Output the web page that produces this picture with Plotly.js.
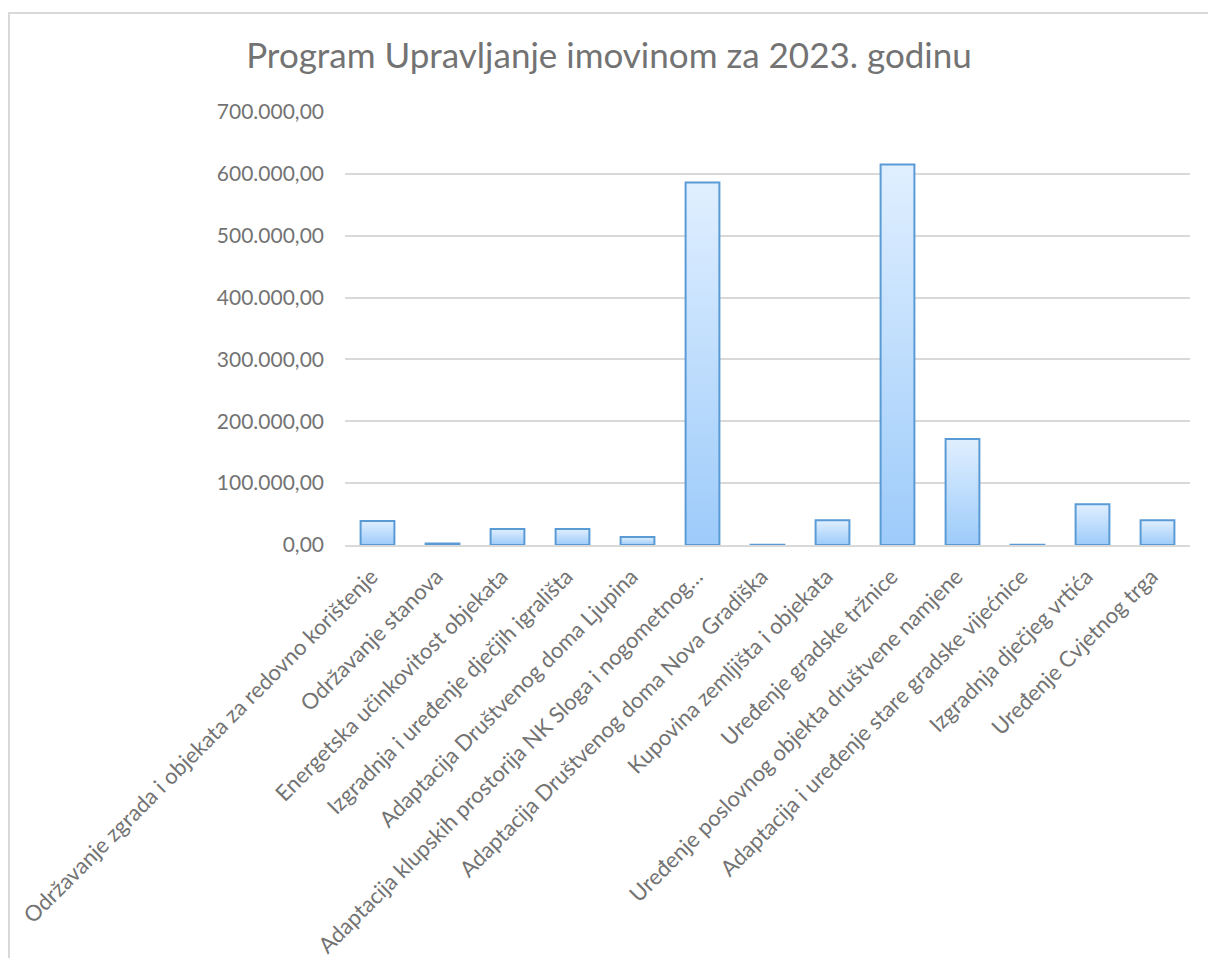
<!DOCTYPE html>
<html>
<head>
<meta charset="utf-8">
<script src="https://cdn.plot.ly/plotly-3.0.1.min.js"></script>
<style>
  html, body { margin: 0; padding: 0; overflow: hidden; background: #ffffff; width: 1208px; height: 958px; }
  #chart { position: absolute; left: 8px; top: 12px; width: 1230px; height: 980px; border: 2px solid #d9d9d9; }
</style>
</head>
<body>
<div id="chart"></div>
<script>
const categories = [
  "Održavanje zgrada i objekata za redovno korištenje",
  "Održavanje stanova",
  "Energetska učinkovitost objekata",
  "Izgradnja i uređenje dječjih igrališta",
  "Adaptacija Društvenog doma Ljupina",
  "Adaptacija klupskih prostorija NK Sloga i nogometnog…",
  "Adaptacija Društvenog doma Nova Gradiška",
  "Kupovina zemljišta i objekata",
  "Uređenje gradske tržnice",
  "Uređenje poslovnog objekta društvene namjene",
  "Adaptacija i uređenje stare gradske vijećnice",
  "Izgradnja dječjeg vrtića",
  "Uređenje Cvjetnog trga"
];
const values = [39000, 2500, 26000, 26000, 13000, 586000, 500, 40000, 615000, 171500, 500, 66000, 40000];
const yTicks = [0, 100000, 200000, 300000, 400000, 500000, 600000, 700000];
const chartTitle = "Program Upravljanje imovinom za 2023. godinu";

const textColor = "#737373";
const fontFam = "Lato, 'Open Sans', sans-serif";

const trace = {
  type: "bar",
  x: categories,
  y: values,
  width: 0.52,
  marker: { color: "#bddcfb", line: { color: "#5b9bd5", width: 2 } },
  hoverinfo: "x+y"
};

const layout = {
  width: 1230,
  height: 980,
  margin: { l: 335, r: 50, t: 98, b: 449 },
  paper_bgcolor: "#ffffff",
  plot_bgcolor: "#ffffff",
  separators: ",.",
  showlegend: false,
  title: {
    text: chartTitle,
    font: { family: fontFam, size: 35, color: textColor },
    xref: "container", x: 599 / 1230, xanchor: "center",
    yref: "container", y: 1 - 42 / 980, yanchor: "middle"
  },
  xaxis: {
    type: "category",
    tickangle: -45,
    tickfont: { family: fontFam, size: 22, color: textColor },
    showgrid: false,
    showline: true,
    linecolor: "#d9d9d9",
    linewidth: 2,
    ticks: "",
    ticklabelshift: -6,
    ticklabelstandoff: 8,
    fixedrange: true
  },
  yaxis: {
    range: [0, 700000],
    tickvals: yTicks,
    tickformat: ",.2f",
    tickfont: { family: fontFam, size: 21, color: textColor },
    showgrid: true,
    gridcolor: "#d9d9d9",
    gridwidth: 2,
    zeroline: false,
    showline: false,
    ticks: "",
    ticklabelstandoff: 20,
    fixedrange: true
  }
};

Plotly.newPlot("chart", [trace], layout, { displayModeBar: false, staticPlot: true }).then(function (gd) {
  const svg = gd.querySelector("svg.main-svg");
  const defs = svg.querySelector("defs");
  const ns = "http://www.w3.org/2000/svg";
  const grad = document.createElementNS(ns, "linearGradient");
  grad.setAttribute("id", "barGrad");
  grad.setAttribute("x1", "0"); grad.setAttribute("y1", "0");
  grad.setAttribute("x2", "0"); grad.setAttribute("y2", "1");
  [["0", "#e0efff"], ["1", "#9dcbfa"]].forEach(function (s) {
    const st = document.createElementNS(ns, "stop");
    st.setAttribute("offset", s[0]);
    st.setAttribute("stop-color", s[1]);
    grad.appendChild(st);
  });
  defs.appendChild(grad);
  gd.querySelectorAll(".bars .point path").forEach(function (p) {
    p.style.fill = "url(#barGrad)";
  });
});
</script>
</body>
</html>
